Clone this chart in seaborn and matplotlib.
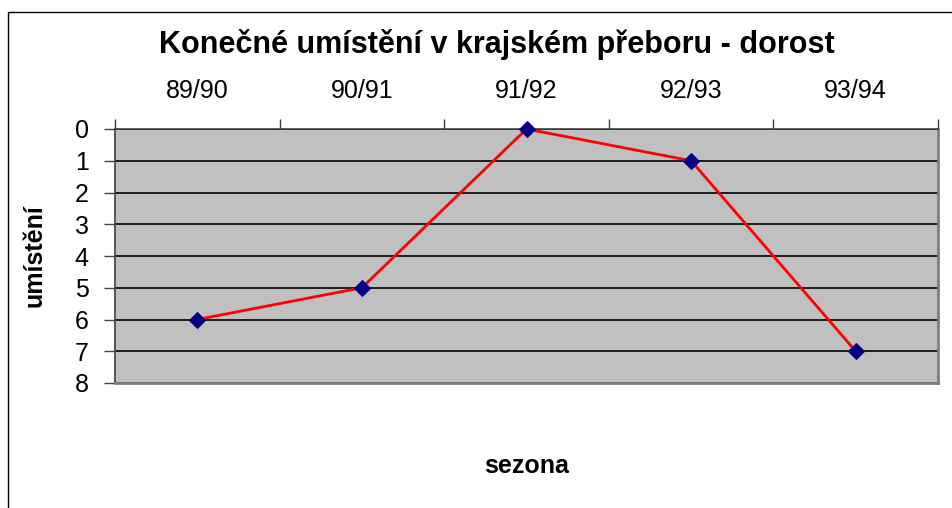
import numpy as np
import pandas as pd
import matplotlib
matplotlib.use('Agg')
import matplotlib.pyplot as plt
import seaborn as sns

seasons = ['89/90', '90/91', '91/92', '92/93', '93/94']
placement = [6, 5, 0, 1, 7]

df = pd.DataFrame({'sezona': seasons, 'umisteni': placement})

sns.set_style('white')
plt.rcParams['font.family'] = ['Liberation Sans', 'DejaVu Sans']
plt.rcParams['text.color'] = 'black'
plt.rcParams['xtick.color'] = 'black'
plt.rcParams['ytick.color'] = 'black'
plt.rcParams['axes.labelcolor'] = 'black'

fig = plt.figure(figsize=(9.53, 5.08), dpi=100)
ax = fig.add_axes([115 / 953, 1 - 383 / 508, 823 / 953, 254 / 508])
ax.set_facecolor('#C0C0C0')

sns.lineplot(data=df, x='sezona', y='umisteni', ax=ax, color='#FF0000', linewidth=2,
             marker='D', markersize=8.5, markerfacecolor='#000080', markeredgecolor='#000080',
             zorder=5, clip_on=False)

ax.set_xlim(-0.5, 4.5)
ax.set_ylim(8, 0)
ax.set_yticks(range(0, 9))
ax.yaxis.grid(True, color='black', linewidth=1.2)
ax.set_axisbelow(True)

ax.xaxis.tick_top()
ax.set_xticks(range(5))
ax.set_xticklabels(seasons)
ax.set_xticks(np.arange(-0.5, 5, 1), minor=True)
ax.tick_params(axis='x', which='major', length=0, pad=19, labelsize=18, labelcolor='black')
ax.tick_params(axis='x', which='minor', length=7, width=1, color='#404040', direction='out')
ax.tick_params(axis='y', length=8, width=1, color='#404040', direction='out', labelsize=18,
               pad=11, labelcolor='black')
ax.tick_params(axis='both', bottom=False, left=True, top=True)

for s in ['left', 'top']:
    ax.spines[s].set_color('#404040')
    ax.spines[s].set_linewidth(1.2)
for s in ['right', 'bottom']:
    ax.spines[s].set_color('#808080')
    ax.spines[s].set_linewidth(2)

ax.set_xlabel('')
ax.set_ylabel('')
fig.text(35 / 953, 1 - 256 / 508, 'umístění', rotation=90, ha='center', va='center',
         fontsize=18, fontweight='bold', color='black')
fig.text(497 / 953, 1 - 45 / 508, 'Konečné umístění v krajském přeboru - dorost',
         ha='center', va='center', fontsize=22, fontweight='bold', color='black')
fig.text(527 / 953, 1 - 466 / 508, 'sezona', ha='center', va='center',
         fontsize=18, fontweight='bold', color='black')

# chart area frame
fig.add_artist(plt.Rectangle((8 / 953, -0.05), 1.0, 1 - 12 / 508 + 0.05,
                             transform=fig.transFigure, fill=False,
                             edgecolor='black', linewidth=1))

fig.savefig('out.png', dpi=100)
